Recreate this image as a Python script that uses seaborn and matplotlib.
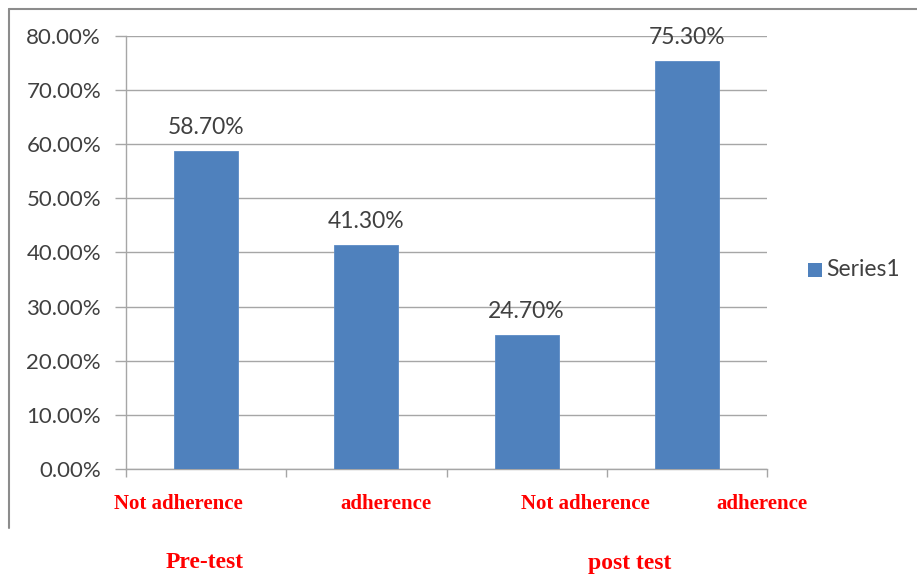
import matplotlib
matplotlib.use("Agg")
import matplotlib.pyplot as plt
import seaborn as sns
import pandas as pd
from matplotlib.lines import Line2D
from matplotlib.patches import Rectangle

categories = ["Not adherence (pre)", "adherence (pre)", "Not adherence (post)", "adherence (post)"]
values = [58.70, 41.30, 24.70, 75.30]
cat_labels = ["Not adherence", "adherence", "Not adherence", "adherence"]
group_labels = ["Pre-test", "post test"]
y_ticks = [0, 10, 20, 30, 40, 50, 60, 70, 80]
series_name = "Series1"

df = pd.DataFrame({"cat": categories, "val": values})

sns.set_theme(style="white")
plt.rcParams["font.family"] = ["Lato", "DejaVu Sans"]

W, H = 917, 575
fig = plt.figure(figsize=(W / 100, H / 100), dpi=100)
ax = fig.add_axes([126 / W, (H - 469) / H, (767 - 126) / W, (469 - 36) / H])

bar_color = "#4F81BD"
txt_color = "#404040"
fs_tick = 16
fs_lab = 16.5

sns.barplot(data=df, x="cat", y="val", color=bar_color, width=0.4,
            saturation=1, ax=ax, edgecolor="#5B8BC6", linewidth=0.6, zorder=3)

ax.set_ylim(0, 80)
ax.set_xlim(-0.5, len(values) - 0.5)
ax.set_yticks(y_ticks)
ax.set_yticklabels([f"{v:.2f}%" for v in y_ticks], color=txt_color, fontsize=fs_tick)
ax.yaxis.grid(True, color="#A6A6A6", linewidth=1.0, zorder=0)
ax.set_axisbelow(True)
ax.set_xlabel("")
ax.set_ylabel("")

# x ticks at category boundaries, no labels
ax.set_xticks([i - 0.5 for i in range(len(values) + 1)])
ax.set_xticklabels([])
ax.tick_params(axis="x", direction="out", length=6, color="#A6A6A6", width=1, bottom=True)
ax.tick_params(axis="y", direction="out", length=8, color="#A6A6A6", width=1, left=True, pad=10)

for s in ["top", "right"]:
    ax.spines[s].set_visible(False)
for s in ["left", "bottom"]:
    ax.spines[s].set_color("#A6A6A6")
    ax.spines[s].set_linewidth(1.0)

# value labels above bars
for i, v in enumerate(values):
    ax.annotate(f"{v:.2f}%", (i, v), xytext=(0, 17), textcoords="offset points",
                ha="center", va="center", fontsize=fs_lab, color=txt_color)

# red category labels
cat_x = [178, 386, 585, 762]
for x, t in zip(cat_x, cat_labels):
    fig.text(x / W, 1 - 504 / H, t, ha="center", va="center", color="#FF0000",
             fontsize=15, fontweight="bold", family="Liberation Serif")

group_x = [205, 630]
for x, t in zip(group_x, group_labels):
    fig.text(x / W, 1 - 563 / H, t, ha="center", va="center", color="#FF0000",
             fontsize=17, fontweight="bold", family="Liberation Serif")

# legend
fig.add_artist(Rectangle((808 / W, 1 - 277 / H), 14 / W, 14 / H,
                         transform=fig.transFigure, facecolor=bar_color, edgecolor="none"))
fig.text(826 / W, 1 - 270 / H, series_name, ha="left", va="center",
         fontsize=fs_lab, color=txt_color)

# chart frame
fig.add_artist(Line2D([9 / W, 1.0], [1 - 9 / H, 1 - 9 / H], transform=fig.transFigure,
                      color="#8C8C8C", linewidth=1.5))
fig.add_artist(Line2D([9 / W, 9 / W], [1 - 9 / H, 1 - 528 / H], transform=fig.transFigure,
                      color="#8C8C8C", linewidth=1.5))

fig.savefig("out.png", dpi=100)
